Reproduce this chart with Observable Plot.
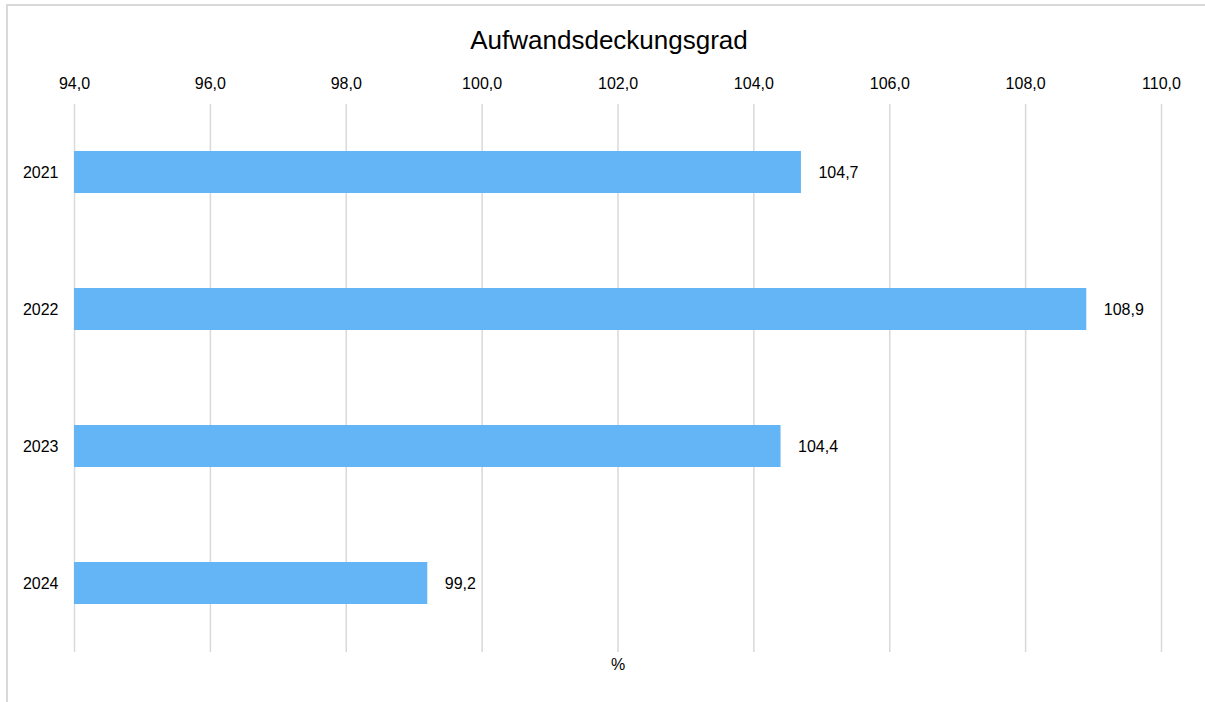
<!DOCTYPE html>
<html>
<head>
<meta charset="utf-8">
<script src="https://cdn.jsdelivr.net/npm/d3@7"></script>
<script src="https://cdn.jsdelivr.net/npm/@observablehq/plot@0.6"></script>
<style>
  html, body { margin: 0; padding: 0; background: #fff; overflow: hidden; }
  #wrap { position: relative; width: 1205px; height: 702px; overflow: hidden; font-family: "Liberation Sans", Arial, sans-serif; }
  #frame { position: absolute; left: 6px; top: 4px; width: 1199px; height: 698px; border-left: 2px solid #d9d9d9; border-top: 2px solid #d9d9d9; box-sizing: border-box; }
  #title { position: absolute; left: 0; width: 1218px; top: 25px; text-align: center; font-size: 26px; color: #000; }
  #chart { position: absolute; left: 0; top: 0; }
</style>
</head>
<body>
<div id="wrap">
  <div id="frame"></div>
  <div id="chart"></div>
  <div id="title">Aufwandsdeckungsgrad</div>
</div>
<script>
const years = ["2021", "2022", "2023", "2024"];
const values = [104.7, 108.9, 104.4, 99.2];
const tickValues = [94, 96, 98, 100, 102, 104, 106, 108, 110];
const xDomain = [94, 110];
const baseline = 94;
const axisLabel = "%";

const data = years.map((y, i) => ({year: y, value: values[i]}));
const fmt = v => v.toFixed(1).replace(".", ",");

const chart = Plot.plot({
  width: 1205,
  height: 702,
  marginTop: 104,
  marginBottom: 50,
  marginLeft: 74,
  marginRight: 44,
  style: {fontFamily: "'Liberation Sans', Arial, sans-serif", fontSize: "16px", color: "#000", background: "transparent"},
  x: {domain: xDomain},
  y: {domain: years, paddingInner: 0.69, paddingOuter: 0.345},
  marks: [
    Plot.gridX(tickValues, {stroke: "#d9d9d9", strokeOpacity: 1, strokeWidth: 1.5}),
    Plot.axisX(tickValues, {anchor: "top", tickSize: 0, tickPadding: 16, tickFormat: fmt, label: null, fontSize: 16}),
    Plot.axisY({tickSize: 0, tickPadding: 16, label: null, fontSize: 16}),
    Plot.barX(data, {y: "year", x1: baseline, x2: "value", fill: "#64b5f6"}),
    Plot.text(data, {y: "year", x: "value", text: d => fmt(d.value), textAnchor: "start", dx: 17, fontSize: 16, fill: "#000"}),
    Plot.text([axisLabel], {frameAnchor: "bottom", text: d => d, dy: 17, fontSize: 16, fill: "#000"})
  ]
});
document.getElementById("chart").appendChild(chart);
</script>
</body>
</html>
